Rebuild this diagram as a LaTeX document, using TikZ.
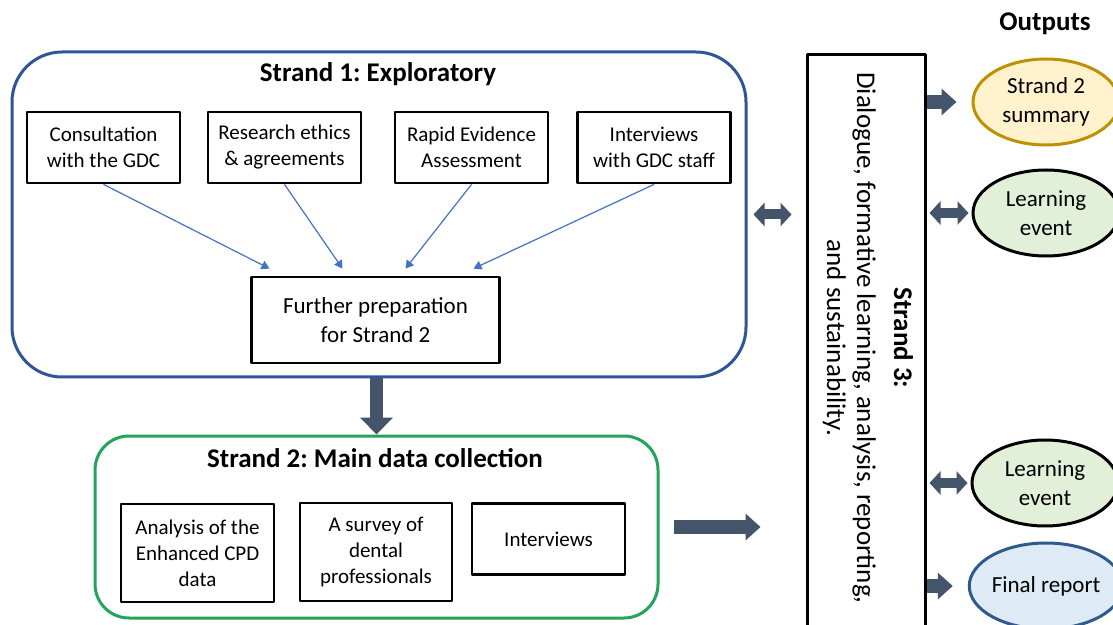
\documentclass[tikz,border=0pt]{standalone}
\usepackage{fontspec}
\setmainfont{Carlito}
\frenchspacing
\usetikzlibrary{arrows.meta,calc,shapes.geometric}
\definecolor{strandblue}{HTML}{2F5597}
\definecolor{strandgreen}{HTML}{22A55B}
\definecolor{slate}{HTML}{44546A}
\definecolor{thinblue}{HTML}{4472C4}
\definecolor{summfill}{HTML}{FFF2CC}
\definecolor{summline}{HTML}{BF9000}
\definecolor{eventfill}{HTML}{E2F0D9}
\definecolor{reportfill}{HTML}{DEEBF7}
\definecolor{reportline}{HTML}{2E5B8C}
\begin{document}
\begin{tikzpicture}[x=.5pt,y=-.5pt,line join=round,
    task/.style={draw,line width=1.4pt,inner sep=0pt,align=center,minimum width=76.5pt,minimum height=35.5pt,font=\fontsize{10.5}{13}\selectfont},
    strandbox/.style={draw,line width=1.5pt,inner sep=0pt},
    strandtitle/.style={font=\fontsize{13.5}{16}\selectfont\bfseries},
    output/.style={ellipse,draw,line width=1.5pt,inner sep=0pt,align=center,minimum width=73pt,minimum height=43pt,font=\fontsize{11.5}{14.5}\selectfont},
    feed/.style={thinblue,line width=.6pt,-{Triangle[length=4pt,width=4.5pt]}},
    fat/.style={slate,line width=7pt,-{Triangle[length=7.5pt,width=13pt]}},
    fatdown/.style={slate,line width=6.5pt,-{Triangle[length=8.5pt,width=16pt]}},
    fatboth/.style={slate,line width=5pt,{Triangle[length=5.5pt,width=11.5pt]}-{Triangle[length=5.5pt,width=11.5pt]}}]
  \path[use as bounding box,fill=white] (0,0) rectangle (1113,625);

  \node[strandbox,strandblue,rounded corners=25pt,minimum width=367pt,minimum height=162.5pt] (s1) at (379,214.5) {};
  \node[strandtitle] (s1title) at (378,74) {Strand 1: Exploratory};
  \node[task] (consult) at (103.5,147.5) {Consultation\\with the GDC};
  \node[task] (ethics) at (284.5,147.5) {Research ethics\\\& agreements};
  \node[task] (rea) at (471.5,147.5) {Rapid Evidence\\Assessment};
  \node[task] (gdcstaff) at (654,147.5) {Interviews\\with GDC staff};
  \node[task,minimum width=124pt,minimum height=43pt,font=\fontsize{11.5}{14.5}\selectfont] (prep) at (375.5,320) {Further preparation\\for Strand 2};

  \draw[feed] (consult.south) -- ([shift={(-106,-7)}]prep.north);
  \draw[feed] (ethics.south) -- ([shift={(-33,-7)}]prep.north);
  \draw[feed] (rea.south) -- ([shift={(30,-7)}]prep.north);
  \draw[feed] (gdcstaff.south) -- ([shift={(98,-7)}]prep.north);

  \node[strandbox,strandgreen,rounded corners=17pt,minimum width=281.5pt,minimum height=91pt] (s2) at (376.5,527) {};
  \node[strandtitle] (s2title) at (375,458) {Strand 2: Main data collection};
  \node[task,minimum height=49pt] (cpd) at (197.5,553) {Analysis of the\\Enhanced CPD\\data};
  \node[task,minimum width=76pt,minimum height=49pt] (survey) at (376,552) {A survey of\\dental\\professionals};
  \node[task] (interviews) at (548.5,539) {Interviews};

  \node[strandbox,black,minimum width=59pt,minimum height=295pt] (s3) at (866,350) {};
  \node[rotate=-90,align=center,font=\fontsize{13.5}{15}\selectfont] (s3text) at (868,338)
    {\textbf{Strand 3:}\\[3.5pt]Dialogue, formative learning, analysis, reporting,\\and sustainability.};

  \node[font=\fontsize{13.5}{16}\selectfont\bfseries] (outputs) at (1045,24) {Outputs};
  \node[output,draw=summline,fill=summfill] (summ) at (1046,102) {Strand 2\\summary};
  \node[output,fill=eventfill] (event1) at (1046,213) {Learning\\event};
  \node[output,fill=eventfill] (event2) at (1045,483) {Learning\\event};
  \node[output,draw=reportline,fill=reportfill] (report) at (1046,586) {Final report};

  \draw[fatdown] (s1.south -| s2.north) -- (s2.north);
  \draw[fatboth,shorten <=3pt,shorten >=7pt] (s1.east) -- (s1.east -| s3.west);
  \draw[fat,shorten <=7pt,shorten >=22.5pt] (s2.east) -- (s2.east -| s3.west);
  \draw[fat,shorten >=7.5pt] (summ.west -| s3.east) -- (summ.west);
  \draw[fatboth,shorten <=1.5pt,shorten >=1.5pt] (event1.west -| s3.east) -- (event1.west);
  \draw[fatboth,shorten <=1.5pt,shorten >=1.5pt] (event2.west -| s3.east) -- (event2.west);
  \draw[fat,shorten >=7.5pt] (report.west -| s3.east) -- (report.west);
\end{tikzpicture}
\end{document}
